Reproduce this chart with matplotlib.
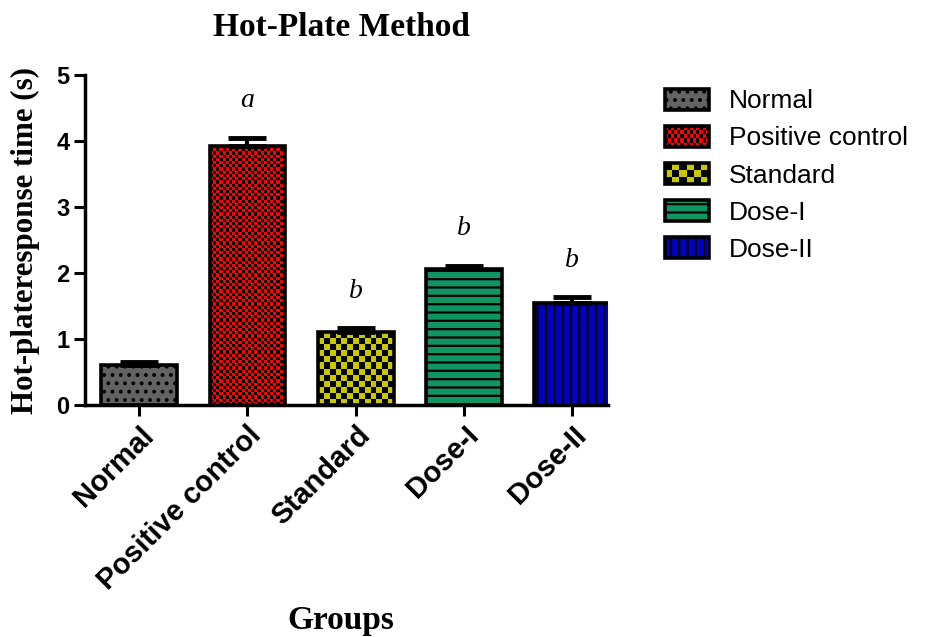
import numpy as np
import matplotlib
matplotlib.use("Agg")
import matplotlib.pyplot as plt
from matplotlib.colors import ListedColormap
from matplotlib.patches import Rectangle
from matplotlib.legend_handler import HandlerBase

# data
groups = ["Normal", "Positive control", "Standard", "Dose-I", "Dose-II"]
means = [0.60, 3.93, 1.10, 2.06, 1.55]
errors = [0.05, 0.12, 0.06, 0.05, 0.08]
letters = ["", "a", "b", "b", "b"]
colors = ["#636363", "#ff0000", "#c8c800", "#109462", "#0000c4"]

plt.rcParams["hatch.color"] = "black"
plt.rcParams["hatch.linewidth"] = 1.6
sans = "Liberation Sans"
serif = "Liberation Serif"

fig = plt.figure(figsize=(9.29, 6.37), dpi=100)
ax = fig.add_axes([85 / 929, 1 - 405 / 637, 523 / 929, 330 / 637])

x = np.arange(len(groups))
bars = ax.bar(x, means, width=0.7, color=colors, edgecolor="black",
              linewidth=2.6, zorder=2)
ax.set_xlim(-0.5, 4.33)
ax.set_ylim(0, 5)

# simple hatches
bars[0].set_hatch("..")
bars[3].set_hatch("--")
bars[4].set_hatch("||")


def checker(bar, cell_px, c_back, c_cell):
    x0, y0 = bar.get_x(), bar.get_y()
    x1, y1 = x0 + bar.get_width(), y0 + bar.get_height()
    (px0, py0), (px1, py1) = ax.transData.transform([(x0, y0), (x1, y1)])
    nx = max(1, int(round((px1 - px0) / cell_px)))
    ny = max(1, int(round((py1 - py0) / cell_px)))
    grid = np.add.outer(np.arange(ny), np.arange(nx)) % 2
    im = ax.imshow(grid, extent=(x0, x1, y0, y1), origin="lower",
                   cmap=ListedColormap([c_back, c_cell]), interpolation="nearest",
                   aspect="auto", zorder=1.9)
    im.set_clip_path(bar)
    bar.set_facecolor("none")


checker(bars[1], 3.2, colors[1], "black")
checker(bars[2], 6.0, colors[2], "black")
ax.set_xlim(-0.5, 4.33)
ax.set_ylim(0, 5)

# upper error bars only
ax.errorbar(x, means, yerr=[np.zeros(len(errors)), errors], fmt="none",
            ecolor="black", elinewidth=3, capsize=13.5, capthick=3.5, zorder=3)

for xi, m, e, lab in zip(x, means, errors, letters):
    if lab:
        ax.text(xi, m + e + 0.56, lab, ha="center", va="center",
                fontsize=20, family=serif, style="italic")

for side in ["top", "right"]:
    ax.spines[side].set_visible(False)
for side in ["left", "bottom"]:
    ax.spines[side].set_linewidth(2.5)

ax.set_yticks([0, 1, 2, 3, 4, 5])
ax.tick_params(axis="both", width=2.2, length=8, direction="out")
ax.tick_params(axis="y", labelsize=17, pad=3)
ax.set_xticks(x)
ax.set_xticklabels(groups, rotation=45, ha="right", rotation_mode="anchor",
                   fontsize=21, fontweight="bold", family=sans)
for t in ax.get_yticklabels():
    t.set_fontweight("bold")
    t.set_family(sans)

fig.text(342 / 929, 1 - 27 / 637, "Hot-Plate Method", ha="center", va="center",
         fontsize=24, fontweight="bold", family=serif)
fig.text(25 / 929, 1 - 240 / 637, "Hot-plateresponse time (s)", ha="center",
         va="center", rotation=90, fontsize=22.3, fontweight="bold", family=serif)
fig.text(341 / 929, 1 - 620 / 637, "Groups", ha="center", va="center",
         fontsize=24, fontweight="bold", family=serif)


class CheckerHandler(HandlerBase):
    def __init__(self, nx, ny, c_back, c_cell):
        super().__init__()
        self.nx, self.ny = nx, ny
        self.c_back, self.c_cell = c_back, c_cell

    def create_artists(self, legend, orig_handle, xdescent, ydescent,
                       width, height, fontsize, trans):
        x0, y0 = -xdescent, -ydescent
        arts = [Rectangle((x0, y0), width, height, facecolor=self.c_back,
                          edgecolor="none", transform=trans)]
        cw, ch = width / self.nx, height / self.ny
        for i in range(self.nx):
            for j in range(self.ny):
                if (i + j) % 2:
                    arts.append(Rectangle((x0 + i * cw, y0 + j * ch), cw, ch,
                                          facecolor=self.c_cell, edgecolor="none",
                                          transform=trans))
        arts.append(Rectangle((x0, y0), width, height, facecolor="none",
                              edgecolor="black", linewidth=2.6, transform=trans))
        return arts


pos_proxy = Rectangle((0, 0), 1, 1)
std_proxy = Rectangle((0, 0), 1, 1)
handles = [bars[0], pos_proxy, std_proxy, bars[3], bars[4]]
hmap = {pos_proxy: CheckerHandler(14, 5, colors[1], "black"),
        std_proxy: CheckerHandler(6, 3, "black", colors[2])}
fig.legend(handles, groups, handler_map=hmap, loc="upper left",
           bbox_to_anchor=(641 / 929, 1 - 65 / 637), frameon=False,
           prop={"family": sans, "size": 19}, handlelength=1.67,
           handleheight=0.85, handletextpad=0.75, labelspacing=0.47)

fig.savefig("out.png", dpi=100)
